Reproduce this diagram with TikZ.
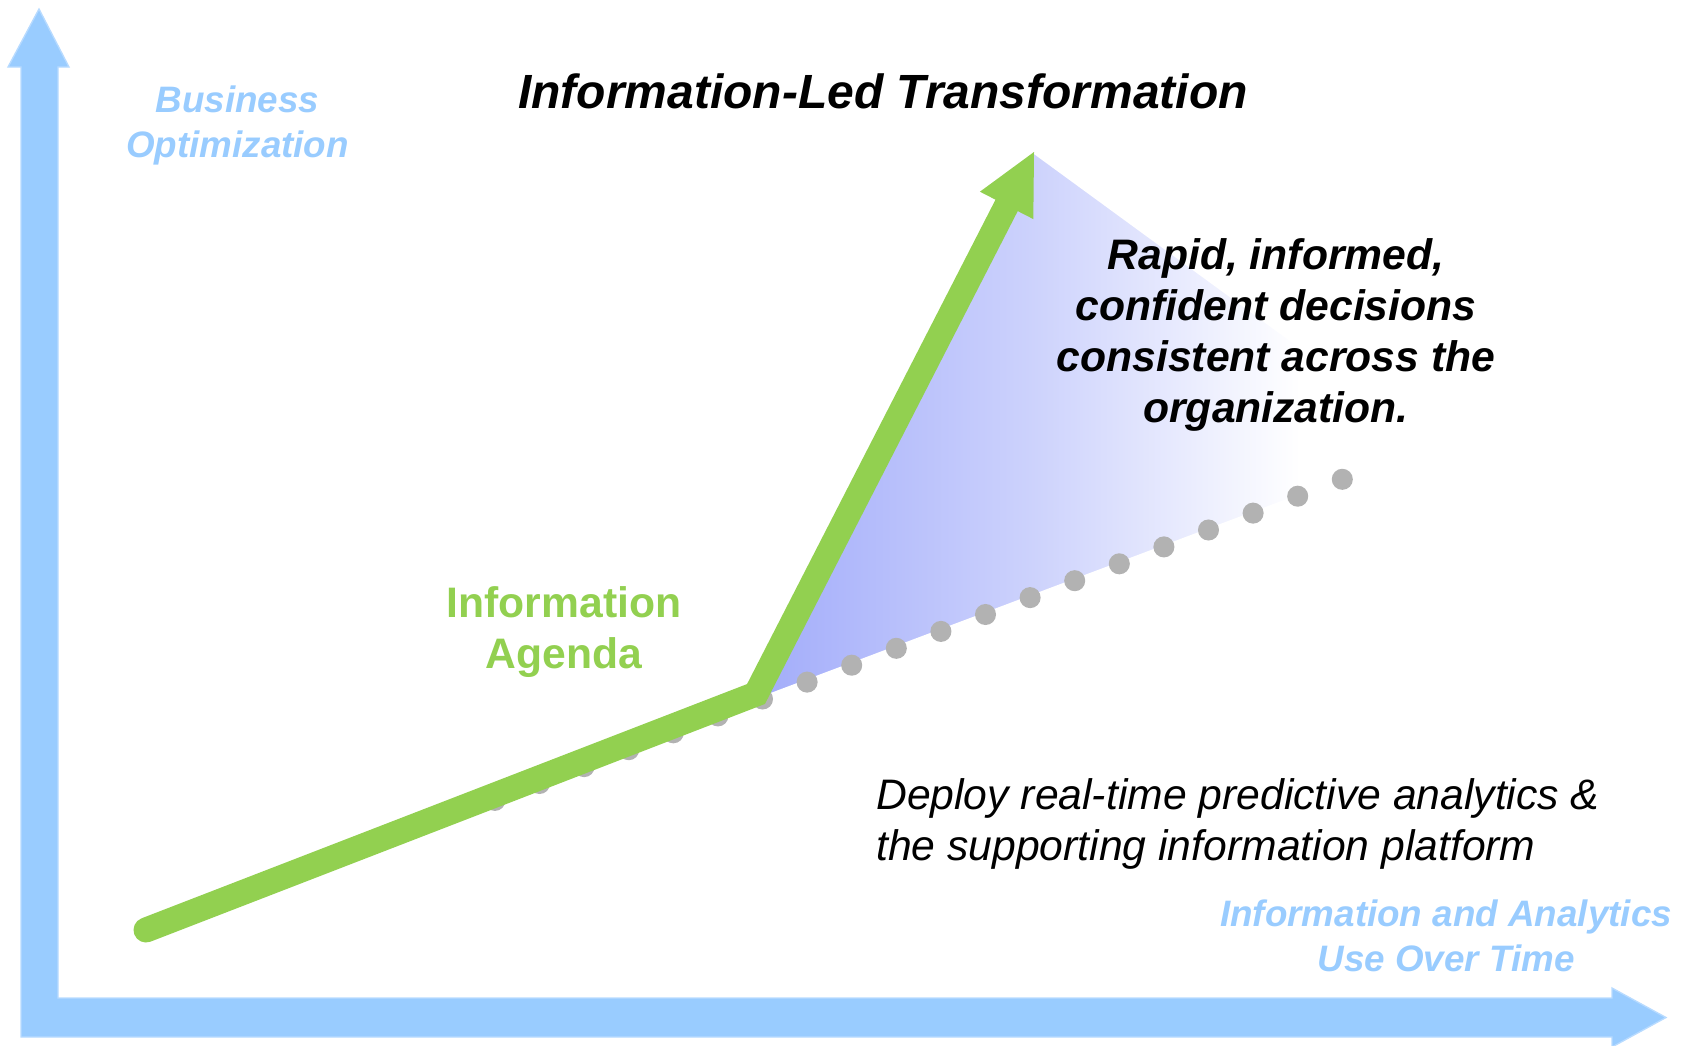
\documentclass[tikz,border=0pt]{standalone}
\usepackage{fontspec}
\setmainfont{Liberation Sans}
\usetikzlibrary{calc}
\definecolor{axisblue}{RGB}{153,204,255}
\definecolor{agreen}{RGB}{146,208,80}
\definecolor{dotgray}{RGB}{178,178,178}
\definecolor{fanblue}{RGB}{163,173,250}
\pgfdeclarehorizontalshading{fanshade}{100bp}{color(0bp)=(fanblue); color(25bp)=(fanblue); color(45bp)=(fanblue!55!white); color(65bp)=(white); color(100bp)=(white)}
\begin{document}
\begin{tikzpicture}[x=0.75pt,y=-0.75pt,
  axisarrow/.style={fill=axisblue, draw=axisblue!70, line width=1pt, line join=miter},
  axislabel/.style={text=axisblue, font=\fontsize{27.6}{33.75}\selectfont\bfseries\itshape, align=center, inner sep=0pt, anchor=base},
  bigblack/.style={text=black, font=\fontsize{32}{38.25}\selectfont\bfseries\itshape, align=center, inner sep=0pt, anchor=base},
  titletext/.style={text=black, font=\fontsize{36}{42}\selectfont\bfseries\itshape, inner sep=0pt, anchor=base},
  greentext/.style={text=agreen, font=\fontsize{32}{38.25}\selectfont\bfseries, align=center, inner sep=0pt, anchor=base},
  notetext/.style={text=black, font=\fontsize{32}{38.25}\selectfont\itshape, align=left, inner sep=0pt, anchor=base west},
  dotmark/.style={fill=dotgray},
  greenline/.style={draw=agreen, line width=18.75pt, line cap=round, line join=miter}
]
\useasboundingbox (0,0) rectangle (1696,1046);
% axes
\filldraw[axisarrow] (21,67) -- (8,67) -- (39,9) -- (69,67) -- (58,67) -- (58,998)
  -- (1612,998) -- (1612,988) -- (1666,1017.5) -- (1612,1047) -- (1612,1037) -- (21,1037) -- cycle;
% key points
\coordinate (gs) at (146,930);
\coordinate (ge) at (756,694);
\coordinate (gt) at (1034,152);
\coordinate (fe) at (1435,445);
\coordinate (fb) at (762,698);
% fan
\fill[shading=fanshade] (fb) -- (gt) -- (fe) -- cycle;
\draw[white, line width=2.5pt, line join=round] (gt) -- (fe) -- (fb);
% dotted line
\foreach \k in {-6,...,13}
  \fill[dotmark] ({762.5+44.6*\k},{699-16.9*\k}) circle[radius=7.9pt];
% green arrow
\coordinate (hb) at ($(gt)!45pt!(ge)$);
\coordinate (hl) at ($(hb)!22.5pt!90:(gt)$);
\coordinate (hr) at ($(hb)!22.5pt!-90:(gt)$);
\draw[greenline] (gs) -- (ge) -- (hb);
\fill[agreen] (gt) -- (hl) -- (hr) -- cycle;
% texts
\node[titletext] (title) at (883,108) {Information-Led Transformation};
\node[axislabel] (ylab) at (237.5,157) {Business\\Optimization};
\node[axislabel] (xlab) at (1446,971) {Information and Analytics\\Use Over Time};
\node[bigblack] (rapid) at (1276,422) {Rapid, informed,\\confident decisions\\consistent across the\\organization.};
\node[greentext] (agenda) at (564,668) {Information\\Agenda};
\node[notetext] (deploy) at (876,860) {Deploy real-time predictive analytics \&\\the supporting information platform};
\end{tikzpicture}
\end{document}
